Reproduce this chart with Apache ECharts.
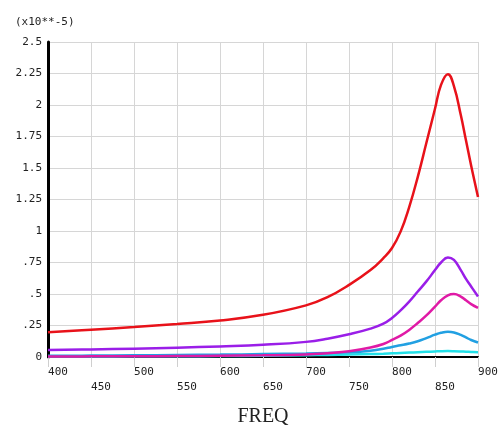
<!DOCTYPE html>
<html>
<head>
<meta charset="utf-8">
<script src="https://cdn.jsdelivr.net/npm/echarts@6/dist/echarts.min.js"></script>
<style>
  html, body { margin: 0; padding: 0; background: #fff; }
  #chart { width: 502px; height: 432px; }
</style>
</head>
<body>
<div id="chart"></div>
<script>
// Frequency samples (Hz) shared by every response curve
const freq = [400, 450, 500, 550, 600, 650, 700, 725, 750, 775, 790, 800, 810, 820, 830, 840, 850, 857, 865, 872, 880, 886, 892, 900];

// Response amplitudes, in units of 1e-5
const redVals     = [0.197, 0.217, 0.238, 0.262, 0.29, 0.335, 0.41, 0.475, 0.572, 0.69, 0.785, 0.865, 0.995, 1.19, 1.43, 1.7, 1.97, 2.16, 2.245, 2.15, 1.92, 1.72, 1.52, 1.27];
const purpleVals  = [0.055, 0.06, 0.066, 0.074, 0.084, 0.097, 0.12, 0.145, 0.18, 0.225, 0.265, 0.31, 0.37, 0.44, 0.52, 0.6, 0.69, 0.75, 0.79, 0.77, 0.69, 0.62, 0.56, 0.48];
const magentaVals = [0.004, 0.005, 0.006, 0.008, 0.01, 0.013, 0.02, 0.03, 0.045, 0.075, 0.103, 0.135, 0.17, 0.215, 0.27, 0.33, 0.4, 0.45, 0.49, 0.5, 0.48, 0.45, 0.42, 0.39];
const blueVals    = [0.01, 0.011, 0.013, 0.016, 0.019, 0.023, 0.028, 0.032, 0.037, 0.05, 0.065, 0.08, 0.093, 0.107, 0.125, 0.15, 0.177, 0.192, 0.2, 0.195, 0.175, 0.155, 0.135, 0.115];
const cyanVals    = [0.003, 0.004, 0.005, 0.006, 0.008, 0.01, 0.014, 0.016, 0.019, 0.023, 0.026, 0.029, 0.032, 0.035, 0.038, 0.041, 0.044, 0.046, 0.047, 0.046, 0.044, 0.042, 0.04, 0.038];

// Axis tick labels
const yTickLabels = ['0', '.25', '.5', '.75', '1', '1.25', '1.5', '1.75', '2', '2.25', '2.5'];
const xAxisTitle = 'FREQ';
const scaleNote = '(x10**-5)';

const mono = 'DejaVu Sans Mono';

function pairs(vals) {
  return freq.map((f, i) => [f, vals[i]]);
}

function curve(vals, color) {
  return {
    type: 'line',
    data: pairs(vals),
    smooth: 0.45,
    showSymbol: false,
    silent: true,
    lineStyle: { color: color, width: 2.5 },
    itemStyle: { color: color }
  };
}

const chart = echarts.init(document.getElementById('chart'), null, { renderer: 'canvas' });

chart.setOption({
  animation: false,
  backgroundColor: '#ffffff',
  title: {
    text: scaleNote,
    left: 10,
    top: 12,
    textStyle: { fontFamily: mono, fontSize: 11, fontWeight: 'normal', color: '#222' }
  },
  grid: { left: 48, right: 24, top: 42, bottom: 61, containLabel: false },
  xAxis: {
    type: 'value',
    min: 400,
    max: 900,
    interval: 50,
    name: xAxisTitle,
    nameLocation: 'middle',
    nameGap: 50,
    nameTextStyle: { fontFamily: 'Liberation Serif', fontSize: 20, color: '#222' },
    axisLine: { show: true, onZero: false, lineStyle: { color: '#000', width: 2 } },
    axisTick: { show: true, length: 10, lineStyle: { color: '#cfcfcf', width: 1 } },
    splitLine: { show: true, lineStyle: { color: '#d6d6d6', width: 1 } },
    axisLabel: {
      margin: 10,
      interval: 0,
      showMinLabel: true,
      showMaxLabel: true,
      formatter: function (v) {
        const odd = Math.round(v / 50) % 2 === 1;
        return odd ? '{b|' + v + '}' : '{a|' + v + '}';
      },
      rich: {
        a: { fontFamily: mono, fontSize: 11, color: '#222', padding: [0, 0, 0, 20] },
        b: { fontFamily: mono, fontSize: 11, color: '#222', padding: [15, 0, 0, 20] }
      }
    }
  },
  yAxis: {
    type: 'value',
    min: 0,
    max: 2.5,
    interval: 0.25,
    axisLine: { show: true, lineStyle: { color: '#000', width: 3 } },
    axisTick: { show: false },
    splitLine: { show: true, lineStyle: { color: '#d6d6d6', width: 1 } },
    axisLabel: {
      margin: 6,
      fontFamily: mono,
      fontSize: 11,
      color: '#222',
      padding: [0, 0, 4, 0],
      formatter: function (v) {
        return yTickLabels[Math.round(v / 0.25)];
      }
    }
  },
  series: [
    curve(cyanVals, '#22e0e8'),
    curve(blueVals, '#22a0e2'),
    curve(magentaVals, '#e01aa6'),
    curve(purpleVals, '#9a1ee8'),
    curve(redVals, '#e8121a')
  ]
});
</script>
</body>
</html>
